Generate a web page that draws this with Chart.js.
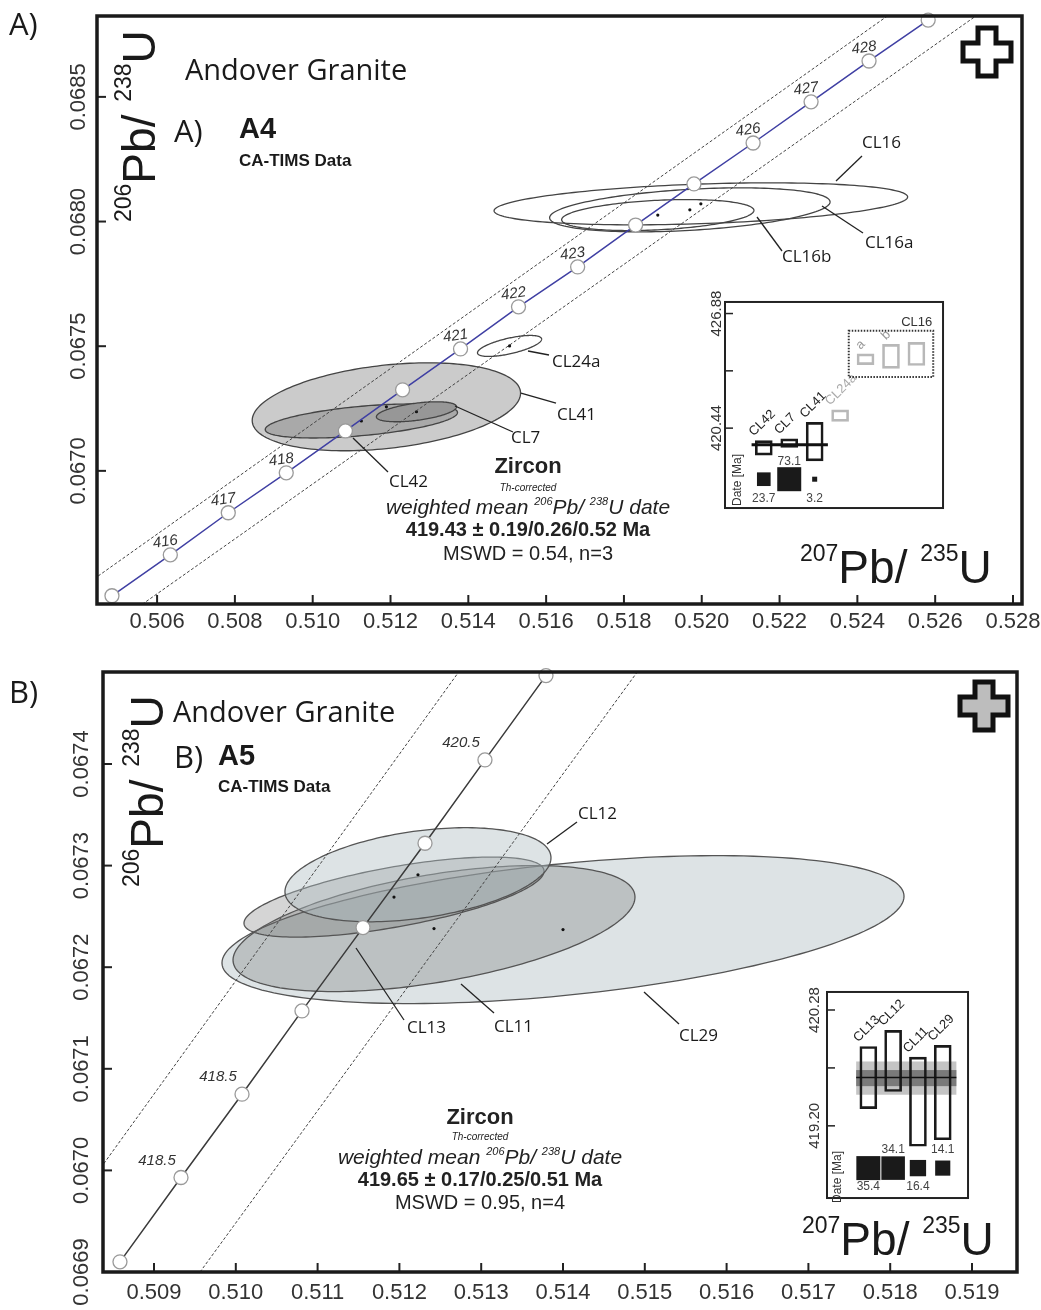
<!DOCTYPE html>
<html>
<head>
<meta charset="utf-8">
<title>Andover Granite concordia</title>
<script src="https://cdn.jsdelivr.net/npm/chart.js@4.4.1/dist/chart.umd.min.js"></script>
<style>
  body { margin: 0; background: #fff; }
  #wrap { position: relative; width: 1041px; height: 1310px; overflow: hidden; background: #fff; }
  #wrap canvas { position: absolute; }
</style>
</head>
<body>
<div id="wrap">
  <canvas id="chartA" width="1041" height="645" style="left:0;top:0"></canvas>
  <canvas id="chartB" width="1041" height="665" style="left:0;top:645px"></canvas>
  <canvas id="insetA" width="270" height="240" style="left:690px;top:285px"></canvas>
  <canvas id="insetB" width="185" height="240" style="left:800px;top:975px"></canvas>
</div>
<script>
// ---------- panel A : sample A4 ----------
const aXTicks = ['0.506', '0.508', '0.510', '0.512', '0.514', '0.516', '0.518', '0.520', '0.522', '0.524', '0.526', '0.528'];
const aYTicks = ['0.0670', '0.0675', '0.0680', '0.0685'];
const aConcX = [0.50484, 0.50634, 0.50783, 0.50932, 0.51084, 0.51231, 0.51380, 0.51529, 0.51681, 0.51830, 0.51980, 0.52132, 0.52281, 0.52430, 0.52582];
const aConcY = [0.066499, 0.066663, 0.066832, 0.066992, 0.067160, 0.067325, 0.067489, 0.067658, 0.067818, 0.067986, 0.068151, 0.068315, 0.068480, 0.068644, 0.068808];
const aConcAge = ['', '416', '417', '418', '', '', '421', '422', '423', '', '', '426', '427', '428', ''];
const aEnvUpX = [0.504275, 0.524867];
const aEnvUpY = [0.066555, 0.068835];
const aEnvLoX = [0.505511, 0.527133];
const aEnvLoY = [0.066453, 0.068834];

const aEllName = ['CL41', 'CL42', 'CL7', 'CL24a', 'CL16', 'CL16a', 'CL16b'];
const aEllX = [0.511894, 0.511251, 0.512667, 0.515060, 0.519977, 0.519694, 0.518870];
const aEllY = [0.067257, 0.067200, 0.067237, 0.067501, 0.068071, 0.068047, 0.068026];
const aEllDX = [0.003449, 0.002471, 0.001030, 0.000824, 0.005315, 0.003604, 0.002471];
const aEllDY = [0.0001764, 0.0000682, 0.0000401, 0.0000421, 0.0000842, 0.0000882, 0.0000621];
const aEllRho = [0.31, 0.5, 0.5, 0.65, 0.33, 0.36, 0.3];

// inset A (dates in Ma)
const aBoxName = ['CL42', 'CL7', 'CL41', 'CL24a', 'CL16a', 'CL16b', 'CL16'];
const aBoxLo = [418.92, 419.36, 418.60, 420.82, 424.01, 423.80, 423.96];
const aBoxHi = [419.74, 419.84, 420.76, 421.47, 424.61, 425.15, 425.26];
const aWeight = [23.7, 73.1, 3.2];
const aMean = 419.5;
const aInsetTickVal = [426.88, 423.66, 420.44];
const aInsetTickLab = ['426.88', '', '420.44'];

// ---------- panel B : sample A5 ----------
const bXTicks = ['0.509', '0.510', '0.511', '0.512', '0.513', '0.514', '0.515', '0.516', '0.517', '0.518', '0.519'];
const bYTicks = ['0.0669', '0.0670', '0.0671', '0.0672', '0.0673', '0.0674'];
const bConcX = [0.508584, 0.509330, 0.510076, 0.510809, 0.511555, 0.512313, 0.513046, 0.513792];
const bConcY = [0.066910, 0.066993, 0.067075, 0.067157, 0.067239, 0.067322, 0.067404, 0.067487];
const bConcAge = ['', '418.5', '418.5', '', '', '', '420.5', ''];
const bEnvUpX = [0.508315, 0.512753];
const bEnvUpY = [0.0669987, 0.0674937];
const bEnvLoX = [0.509562, 0.514917];
const bEnvLoY = [0.0668999, 0.0674916];

const bEllName = ['CL29', 'CL11', 'CL13', 'CL12'];
const bEllX = [0.514000, 0.512423, 0.511934, 0.512227];
const bEllY = [0.067237, 0.067238, 0.067269, 0.067291];
const bEllDX = [0.004169, 0.002457, 0.001834, 0.001626];
const bEllDY = [0.0000728, 0.0000620, 0.0000394, 0.0000463];
const bEllRho = [0.45, 0.5, 0.65, 0.36];

// inset B
const bBoxName = ['CL13', 'CL12', 'CL11', 'CL29'];
const bBoxLo = [419.36, 419.52, 419.01, 419.07];
const bBoxHi = [419.94, 420.09, 419.84, 419.95];
const bWeight = [35.4, 34.1, 16.4, 14.1];
const bMean = 419.65;
const bBandIn = [419.57, 419.72];
const bBandOut = [419.49, 419.80];
const bInsetTickVal = [420.28, 419.74, 419.20];
const bInsetTickLab = ['420.28', '', '419.20'];

// ---------- helpers ----------
const SANS = '"Liberation Sans", Arial, sans-serif';
const MYR = '"Open Sans", sans-serif';
const f = (s, st) => (st ? st + ' ' : '') + s + 'px ' + SANS;

function textRuns(ctx, parts, x, y, align) {
  let total = 0;
  parts.forEach(p => { ctx.font = p.font; p.w = ctx.measureText(p.t).width; total += p.w; });
  let cx = align === 'center' ? x - total / 2 : x;
  ctx.textAlign = 'left';
  parts.forEach(p => { ctx.font = p.font; ctx.fillText(p.t, cx, y + (p.dy || 0)); cx += p.w; });
}

function line(ctx, x1, y1, x2, y2) {
  ctx.beginPath(); ctx.moveTo(x1, y1); ctx.lineTo(x2, y2); ctx.stroke();
}

function plus(ctx, cx, cy, fill) {
  const s = 24, h = 9;
  const p = [[-h, -s], [h, -s], [h, -h], [s, -h], [s, h], [h, h], [h, s], [-h, s], [-h, h], [-s, h], [-s, -h], [-h, -h]];
  ctx.beginPath();
  p.forEach((q, i) => i ? ctx.lineTo(cx + q[0], cy + q[1]) : ctx.moveTo(cx + q[0], cy + q[1]));
  ctx.closePath();
  ctx.fillStyle = fill; ctx.fill();
  ctx.lineWidth = 5; ctx.strokeStyle = '#111'; ctx.lineJoin = 'miter'; ctx.stroke();
}

function axisTitles(ctx, o) {
  const big = f(46), sup = f(23);
  ctx.fillStyle = '#1a1a1a';
  ctx.textBaseline = 'alphabetic';
  textRuns(ctx, [{ t: '207', font: sup, dy: -22 }, { t: 'Pb/ ', font: big }, { t: '235', font: sup, dy: -22 }, { t: 'U', font: big }], o.xTitle[0], o.xTitle[1], 'left');
  ctx.save();
  ctx.translate(o.yTitle[0], o.yTitle[1]);
  ctx.rotate(-Math.PI / 2);
  textRuns(ctx, [{ t: '206', font: sup, dy: -24 }, { t: 'Pb/ ', font: big }, { t: '238', font: sup, dy: -24 }, { t: 'U', font: big }], 0, 0, 'left');
  ctx.restore();
}

const mainPlugin = o => ({
  id: 'panel',
  beforeDatasetsDraw(chart) {
    const { ctx, scales: { x, y }, chartArea: a } = chart;
    ctx.save();
    ctx.beginPath(); ctx.rect(a.left, a.top, a.right - a.left, a.bottom - a.top); ctx.clip();
    o.ell.name.forEach((n, i) => {
      const r = o.ell.rho[i], q = Math.sqrt(1 - r * r);
      ctx.beginPath();
      for (let k = 0; k <= 180; k++) {
        const t = k / 180 * Math.PI * 2;
        const px = x.getPixelForValue(o.ell.x[i] + o.ell.dx[i] * Math.cos(t));
        const py = y.getPixelForValue(o.ell.y[i] + o.ell.dy[i] * (r * Math.cos(t) + q * Math.sin(t)));
        k ? ctx.lineTo(px, py) : ctx.moveTo(px, py);
      }
      ctx.closePath();
      if (o.ellFill[i]) { ctx.fillStyle = o.ellFill[i]; ctx.fill(); }
      ctx.strokeStyle = o.ellStroke; ctx.lineWidth = 1.3; ctx.stroke();
    });
    ctx.fillStyle = '#111';
    o.ell.name.forEach((n, i) => {
      ctx.beginPath();
      ctx.arc(x.getPixelForValue(o.ell.x[i]), y.getPixelForValue(o.ell.y[i]), 1.6, 0, Math.PI * 2);
      ctx.fill();
    });
    ctx.restore();
  },
  afterDatasetsDraw(chart) {
    const { ctx, scales: { x, y } } = chart;
    ctx.save();
    ctx.fillStyle = '#333';
    ctx.font = o.ageFont;
    ctx.textAlign = 'center'; ctx.textBaseline = 'middle';
    o.conc.age.forEach((t, i) => {
      if (!t) return;
      ctx.save();
      ctx.translate(x.getPixelForValue(o.conc.x[i]) + o.ageOff[0], y.getPixelForValue(o.conc.y[i]) + o.ageOff[1]);
      ctx.rotate(o.ageRot);
      ctx.fillText(t, 0, 0);
      ctx.restore();
    });
    ctx.restore();
  },
  afterDraw(chart) {
    const { ctx, scales: { x, y }, chartArea: a } = chart;
    ctx.save();
    // ticks
    ctx.strokeStyle = '#222'; ctx.lineWidth = 2;
    o.xTicks.forEach(t => { const p = x.getPixelForValue(+t); line(ctx, p, a.bottom, p, a.bottom - 9); });
    o.yTicks.forEach(t => { const p = y.getPixelForValue(+t); line(ctx, a.left, p, a.left + 9, p); });
    ctx.lineWidth = 3.5; ctx.strokeStyle = '#1a1a1a';
    ctx.strokeRect(a.left, a.top, a.right - a.left, a.bottom - a.top);
    // tick labels
    ctx.fillStyle = '#333'; ctx.font = f(22);
    ctx.textAlign = 'center'; ctx.textBaseline = 'middle';
    o.xTicks.forEach(t => ctx.fillText(t, x.getPixelForValue(+t), a.bottom + o.xLabGap));
    o.yTicks.forEach(t => {
      ctx.save(); ctx.translate(a.left - o.yLabGap, y.getPixelForValue(+t)); ctx.rotate(-Math.PI / 2);
      ctx.fillText(t, 0, 0); ctx.restore();
    });
    axisTitles(ctx, o);
    // headers
    ctx.fillStyle = '#1a1a1a'; ctx.textAlign = 'left'; ctx.textBaseline = 'alphabetic';
    o.head.forEach(h => { ctx.font = h.font; ctx.fillText(h.t, h.x, h.y); });
    // leader lines and sample labels
    ctx.strokeStyle = '#222'; ctx.lineWidth = 1.3;
    ctx.font = '17px ' + MYR; ctx.textBaseline = 'middle';
    o.leaders.forEach(l => { line(ctx, l[1], l[2], l[3], l[4]); ctx.fillText(l[0], l[5], l[6]); });
    // result block
    ctx.textBaseline = 'alphabetic'; ctx.fillStyle = '#222';
    const c = o.block.x, b = o.block.y;
    textRuns(ctx, [{ t: 'Zircon', font: f(22, 'bold') }], c, b[0], 'center');
    textRuns(ctx, [{ t: 'Th-corrected', font: f(10, 'italic') }], c, b[1], 'center');
    textRuns(ctx, [{ t: 'weighted mean ', font: f(21, 'italic') }, { t: '206', font: f(11, 'italic'), dy: -9 },
      { t: 'Pb/ ', font: f(21, 'italic') }, { t: '238', font: f(11, 'italic'), dy: -9 }, { t: 'U date', font: f(21, 'italic') }], c, b[2], 'center');
    textRuns(ctx, [{ t: o.block.date, font: f(20, 'bold') }], c, b[3], 'center');
    textRuns(ctx, [{ t: o.block.mswd, font: f(20) }], c, b[4], 'center');
    plus(ctx, o.plus[0], o.plus[1], o.plus[2]);
    ctx.restore();
  }
});

function mainChart(id, o) {
  const pts = (xs, ys) => xs.map((v, i) => ({ x: v, y: ys[i] }));
  return new Chart(document.getElementById(id), {
    type: 'scatter',
    data: {
      datasets: [
        { data: pts(o.conc.x, o.conc.y), showLine: true, borderColor: o.concColor, borderWidth: 1.5,
          pointRadius: 7, pointBackgroundColor: '#fff', pointBorderColor: '#9a9a9a', pointBorderWidth: 1.3, clip: false },
        { data: pts(o.envUp[0], o.envUp[1]), showLine: true, borderColor: '#444', borderWidth: 1, borderDash: [3, 2], pointRadius: 0 },
        { data: pts(o.envLo[0], o.envLo[1]), showLine: true, borderColor: '#444', borderWidth: 1, borderDash: [3, 2], pointRadius: 0 }
      ]
    },
    options: {
      responsive: false, animation: false, events: [],
      layout: { padding: o.pad },
      plugins: { legend: { display: false }, tooltip: { enabled: false } },
      scales: {
        x: { type: 'linear', min: o.xr[0], max: o.xr[1], display: false },
        y: { type: 'linear', min: o.yr[0], max: o.yr[1], display: false }
      }
    },
    plugins: [mainPlugin(o)]
  });
}

const insetPlugin = o => ({
  id: 'inset',
  beforeDraw(chart) {
    const { ctx, chartArea: a } = chart;
    ctx.save(); ctx.fillStyle = '#fff'; ctx.fillRect(a.left, a.top, a.right - a.left, a.bottom - a.top); ctx.restore();
  },
  beforeDatasetsDraw(chart) {
    if (!o.band) return;
    const { ctx, scales: { x, y } } = chart;
    const x0 = x.getPixelForValue(o.band.x[0]), x1 = x.getPixelForValue(o.band.x[1]);
    ctx.save();
    ctx.fillStyle = '#c4c4c4';
    let y0 = y.getPixelForValue(o.band.out[1]), y1 = y.getPixelForValue(o.band.out[0]);
    ctx.fillRect(x0, y0, x1 - x0, y1 - y0);
    ctx.fillStyle = '#7a7a7a';
    y0 = y.getPixelForValue(o.band.inn[1]); y1 = y.getPixelForValue(o.band.inn[0]);
    ctx.fillRect(x0, y0, x1 - x0, y1 - y0);
    ctx.restore();
  },
  afterDraw(chart) {
    const { ctx, scales: { x, y }, chartArea: a } = chart;
    ctx.save();
    ctx.strokeStyle = '#222'; ctx.lineWidth = 2;
    ctx.strokeRect(a.left, a.top, a.right - a.left, a.bottom - a.top);
    ctx.lineWidth = 1.5;
    o.tickVal.forEach(v => { const p = y.getPixelForValue(v); line(ctx, a.left, p, a.left + 8, p); });
    ctx.fillStyle = '#333'; ctx.font = f(15); ctx.textAlign = 'center'; ctx.textBaseline = 'middle';
    o.tickVal.forEach((v, i) => {
      if (!o.tickLab[i]) return;
      ctx.save(); ctx.translate(a.left - o.labGap, y.getPixelForValue(v)); ctx.rotate(-Math.PI / 2);
      ctx.fillText(o.tickLab[i], 0, 0); ctx.restore();
    });
    ctx.font = f(12);
    ctx.save(); ctx.translate(a.left + o.dateGap, o.dateY); ctx.rotate(-Math.PI / 2);
    ctx.fillText('Date [Ma]', 0, 0); ctx.restore();
    // rotated sample names over boxes
    ctx.font = f(13); ctx.textAlign = 'left'; ctx.textBaseline = 'alphabetic';
    o.tags.forEach((t, i) => {
      if (!t) return;
      const cx = x.getPixelForValue(i), top = y.getPixelForValue(o.hi[i]);
      ctx.fillStyle = o.tagColor[i];
      ctx.save();
      ctx.translate(t.length > 1 ? cx - 10 : cx - 5, top - 4);
      ctx.rotate(-Math.PI / 4);
      ctx.fillText(t, 0, 0);
      ctx.restore();
    });
    // weights
    ctx.fillStyle = '#444'; ctx.font = f(12); ctx.textAlign = 'center'; ctx.textBaseline = 'middle';
    o.weight.forEach((w, i) => {
      ctx.fillText(String(w), x.getPixelForValue(i), y.getPixelForValue(o.row) + (i % 2 ? -18 : 19));
    });
    if (o.group) {
      const g = o.group;
      const x0 = x.getPixelForValue(g.x[0]), x1 = x.getPixelForValue(g.x[1]);
      const y0 = y.getPixelForValue(g.y[1]), y1 = y.getPixelForValue(g.y[0]);
      ctx.setLineDash([1.5, 1.5]); ctx.lineWidth = 2; ctx.strokeStyle = '#333';
      ctx.strokeRect(x0, y0, x1 - x0, y1 - y0);
      ctx.setLineDash([]);
      ctx.fillStyle = '#333'; ctx.font = f(13); ctx.textAlign = 'right'; ctx.textBaseline = 'alphabetic';
      ctx.fillText(g.name, x1 - 1, y0 - 5);
    }
    ctx.restore();
  }
});

function insetChart(id, o) {
  const wMax = Math.max(...o.weight);
  const ds = [
    { type: 'scatter', data: o.weight.map((w, i) => ({ x: i, y: o.row })), pointStyle: 'rect',
      pointRadius: o.weight.map(w => 24 * Math.sqrt(w / wMax) / Math.SQRT2), backgroundColor: '#1a1a1a', borderWidth: 0 },
    { type: 'bar', data: o.name.map((n, i) => ({ x: i, y: [o.lo[i], o.hi[i]] })), barThickness: 17,
      backgroundColor: 'rgba(0,0,0,0)', borderColor: o.boxColor, borderWidth: 2, borderSkipped: false }
  ];
  ds.splice(0, 0,
    { type: 'line', data: [{ x: o.meanX[0], y: o.mean }, { x: o.meanX[1], y: o.mean }], borderColor: '#111', borderWidth: o.meanW, pointRadius: 0 });
  return new Chart(document.getElementById(id), {
    type: 'bar',
    data: { datasets: ds },
    options: {
      responsive: false, animation: false, events: [],
      layout: { padding: o.pad },
      plugins: { legend: { display: false }, tooltip: { enabled: false } },
      scales: {
        x: { type: 'linear', min: o.xr[0], max: o.xr[1], display: false, offset: false },
        y: { type: 'linear', min: o.yr[0], max: o.yr[1], display: false }
      }
    },
    plugins: [insetPlugin(o)]
  });
}

// ---------- build ----------
mainChart('chartA', {
  pad: { left: 97, top: 16, right: 19, bottom: 41 },
  xr: [0.5044556, 0.5282317], yr: [0.066466, 0.0688244],
  xTicks: aXTicks, yTicks: aYTicks, xLabGap: 18, yLabGap: 18,
  conc: { x: aConcX, y: aConcY, age: aConcAge }, concColor: '#3f3fa3',
  ageFont: f(15, 'italic'), ageOff: [-5, -13], ageRot: -0.14,
  envUp: [aEnvUpX, aEnvUpY], envLo: [aEnvLoX, aEnvLoY],
  ell: { name: aEllName, x: aEllX, y: aEllY, dx: aEllDX, dy: aEllDY, rho: aEllRho },
  ellFill: ['#cbcbcb', '#a9a9a9', '#979797', null, null, null, null], ellStroke: '#444',
  xTitle: [800, 583], yTitle: [155, 222],
  head: [
    { t: 'A)', font: '31px ' + MYR, x: 9, y: 35 },
    { t: 'Andover Granite', font: '29px ' + MYR, x: 185, y: 80 },
    { t: 'A)', font: '31px ' + MYR, x: 174, y: 142 },
    { t: 'A4', font: f(29, 'bold'), x: 239, y: 138 },
    { t: 'CA-TIMS Data', font: f(17, 'bold'), x: 239, y: 166 }
  ],
  leaders: [
    ['CL16', 836, 181, 862, 156, 862, 143],
    ['CL16a', 822, 206, 863, 233, 865, 243],
    ['CL16b', 757, 217, 782, 251, 782, 257],
    ['CL24a', 528, 351, 549, 355, 552, 362],
    ['CL41', 521, 393, 556, 403, 557, 415],
    ['CL7', 455, 406, 513, 432, 511, 438],
    ['CL42', 353, 438, 388, 472, 389, 482]
  ],
  block: { x: 528, y: [473, 491, 514, 536, 560], date: '419.43 \u00b1 0.19/0.26/0.52 Ma', mswd: 'MSWD = 0.54, n=3' },
  plus: [987, 52, '#fff']
});

mainChart('chartB', {
  pad: { left: 103, top: 27, right: 24, bottom: 38 },
  xr: [0.5083765, 0.5195501], yr: [0.0669, 0.06749055],
  xTicks: bXTicks, yTicks: bYTicks, xLabGap: 21, yLabGap: 21,
  conc: { x: bConcX, y: bConcY, age: bConcAge }, concColor: '#3a3a3a',
  ageFont: f(15, 'italic'), ageOff: [-24, -17], ageRot: 0,
  envUp: [bEnvUpX, bEnvUpY], envLo: [bEnvLoX, bEnvLoY],
  ell: { name: bEllName, x: bEllX, y: bEllY, dx: bEllDX, dy: bEllDY, rho: bEllRho },
  ellFill: ['rgba(175,188,193,0.42)', 'rgba(105,105,105,0.28)', 'rgba(105,105,105,0.28)', 'rgba(175,188,193,0.42)'], ellStroke: '#555',
  xTitle: [802, 610], yTitle: [163, 242],
  head: [
    { t: 'B)', font: '31px ' + MYR, x: 9, y: 58 },
    { t: 'Andover Granite', font: '29px ' + MYR, x: 173, y: 77 },
    { t: 'B)', font: '31px ' + MYR, x: 174, y: 123 },
    { t: 'A5', font: f(29, 'bold'), x: 218, y: 120 },
    { t: 'CA-TIMS Data', font: f(17, 'bold'), x: 218, y: 147 }
  ],
  leaders: [
    ['CL12', 547, 199, 577, 177, 578, 169],
    ['CL13', 356, 303, 404, 375, 407, 383],
    ['CL11', 461, 339, 494, 368, 494, 382],
    ['CL29', 644, 347, 679, 379, 679, 391]
  ],
  block: { x: 480, y: [479, 495, 519, 541, 564], date: '419.65 \u00b1 0.17/0.25/0.51 Ma', mswd: 'MSWD = 0.95, n=4' },
  plus: [984, 61, '#bdbdbd']
});

insetChart('insetA', {
  pad: { left: 35, top: 13, right: 13, bottom: 13 },
  xr: [-1.525, 7.046], yr: [415.95, 427.53],
  name: aBoxName, lo: aBoxLo, hi: aBoxHi,
  boxColor: ['#1a1a1a', '#1a1a1a', '#1a1a1a', '#b8b8b8', '#b8b8b8', '#b8b8b8', '#b8b8b8'],
  tags: ['CL42', 'CL7', 'CL41', 'CL24a', 'a', 'b', ''],
  tagColor: ['#222', '#222', '#222', '#aaa', '#999', '#999', '#999'],
  weight: aWeight, row: 417.57,
  mean: aMean, meanX: [-0.48, 2.52], meanW: 3,
  tickVal: aInsetTickVal, tickLab: aInsetTickLab, labGap: 8, dateGap: 13, dateY: 195,
  group: { name: 'CL16', x: [3.34, 6.66], y: [423.31, 425.91] }
});

insetChart('insetB', {
  pad: { left: 27, top: 9, right: 13, bottom: 14 },
  xr: [-1.667, 4.02], yr: [418.527, 420.448],
  name: bBoxName, lo: bBoxLo, hi: bBoxHi,
  boxColor: ['#1a1a1a', '#1a1a1a', '#1a1a1a', '#1a1a1a'],
  tags: ['CL13', 'CL12', 'CL11', 'CL29'],
  tagColor: ['#222', '#222', '#222', '#222'],
  weight: bWeight, row: 418.806,
  mean: bMean, meanX: [-0.49, 3.55], meanW: 1.5,
  band: { x: [-0.49, 3.55], inn: bBandIn, out: bBandOut },
  tickVal: bInsetTickVal, tickLab: bInsetTickLab, labGap: 12, dateGap: 11, dateY: 202
});
</script>
</body>
</html>
